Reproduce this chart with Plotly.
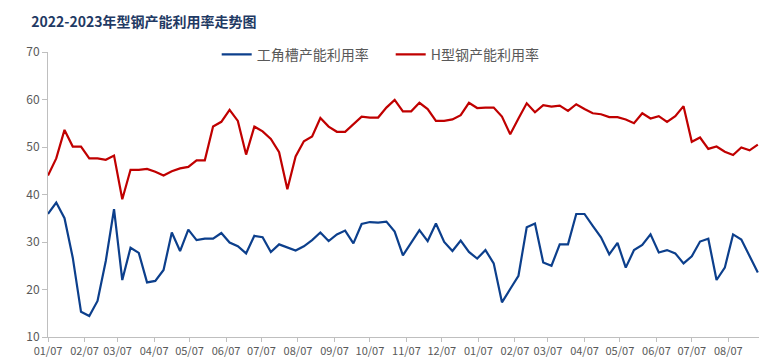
import plotly.graph_objects as go
import pandas as pd

start_date = "2022-01-07"
n_weeks = 87
dates = pd.date_range(start_date, periods=n_weeks, freq="7D")

angle_channel = [35.9, 38.3, 35.0, 26.7, 15.3, 14.4, 17.6, 26.0, 36.9, 22.0,
                 28.8, 27.7, 21.5, 21.8, 24.1, 32.0, 28.1, 32.6, 30.4, 30.7,
                 30.7, 31.9, 29.9, 29.1, 27.6, 31.3, 31.0, 27.9, 29.5, 28.9,
                 28.2, 29.1, 30.4, 32.0, 30.2, 31.6, 32.4, 29.7, 33.8, 34.2,
                 34.1, 34.3, 32.2, 27.2, 29.9, 32.5, 30.2, 33.9, 30.0, 28.1,
                 30.3, 27.9, 26.5, 28.3, 25.5, 17.3, 20.1, 22.9, 33.1, 33.9,
                 25.7, 25.0, 29.5, 29.5, 35.9, 35.9, 33.4, 31.0, 27.4, 29.8,
                 24.6, 28.3, 29.4, 31.6, 27.8, 28.3, 27.6, 25.5, 27.0, 30.1,
                 30.7, 22.0, 24.6, 31.6, 30.5, 26.9, 23.6]

h_beam = [44.0, 47.6, 53.6, 50.1, 50.1, 47.6, 47.6, 47.3, 48.2, 39.0,
          45.2, 45.2, 45.4, 44.8, 44.0, 44.9, 45.5, 45.8, 47.2, 47.2,
          54.3, 55.3, 57.8, 55.5, 48.4, 54.3, 53.3, 51.7, 48.9, 41.1,
          48.0, 51.2, 52.2, 56.1, 54.3, 53.2, 53.2, 54.8, 56.4, 56.2,
          56.2, 58.3, 59.9, 57.5, 57.5, 59.3, 58.0, 55.5, 55.5, 55.8,
          56.7, 59.3, 58.2, 58.3, 58.3, 56.4, 52.7, 56.0, 59.2, 57.3,
          58.8, 58.5, 58.7, 57.6, 59.0, 58.0, 57.1, 56.9, 56.3, 56.3,
          55.8, 55.0, 57.1, 56.0, 56.5, 55.3, 56.5, 58.6, 51.1, 52.0,
          49.6, 50.1, 49.0, 48.3, 49.9, 49.3, 50.5]

series_names = ["工角槽产能利用率", "H型钢产能利用率"]
title_text = "2022-2023年型钢产能利用率走势图"

fig = go.Figure()
fig.add_trace(go.Scatter(x=dates, y=angle_channel, mode="lines", name=series_names[0],
                         line=dict(color="#0C3F8C", width=2.2)))
fig.add_trace(go.Scatter(x=dates, y=h_beam, mode="lines", name=series_names[1],
                         line=dict(color="#C00000", width=2.2)))

font_family = "Noto Sans CJK SC, Noto Sans, sans-serif"
fig.update_layout(
    width=774, height=358,
    margin=dict(l=40, r=23, t=44, b=29),
    paper_bgcolor="white", plot_bgcolor="white",
    title=dict(text="<b>" + title_text + "</b>", x=0.03, xanchor="left", y=0.962, yanchor="middle",
               font=dict(family=font_family, size=14, color="#1F3A64")),
    legend=dict(orientation="h", x=0.482, xanchor="center", y=0.99, yanchor="middle",
                font=dict(family=font_family, size=14, color="#595959"),
                entrywidth=129, entrywidthmode="pixels",
                bgcolor="rgba(0,0,0,0)"),
    showlegend=True,
)
fig.update_xaxes(
    type="date", range=["2022-01-07", "2023-09-02"],
    tick0="2022-01-07", dtick="M1", tickformat="%m/%d", tickangle=0,
    showgrid=False, showline=True, linecolor="#BFBFBF", linewidth=1,
    ticks="outside", ticklen=4, tickcolor="#BFBFBF",
    tickfont=dict(family=font_family, size=11, color="#595959"),
    zeroline=False, automargin=False,
)
fig.update_yaxes(
    range=[10, 70], dtick=10,
    showgrid=False, showline=True, linecolor="#BFBFBF", linewidth=1,
    ticks="outside", ticklen=5, tickcolor="#BFBFBF",
    tickfont=dict(family=font_family, size=12, color="#595959"),
    zeroline=False,
)

fig.write_html("out.html")
